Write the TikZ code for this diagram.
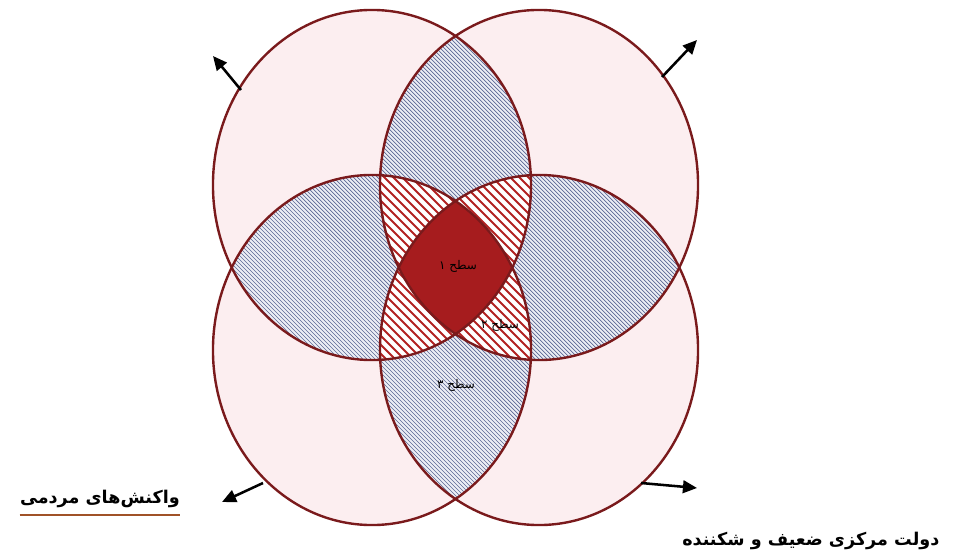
\documentclass[tikz,border=0pt]{standalone}
\usepackage{fontspec}
\usetikzlibrary{arrows.meta}
\newfontfamily\fa[Script=Arabic]{DejaVu Sans}
\TeXXeTstate=1
\definecolor{rim}{RGB}{122,26,28}
\definecolor{pinkf}{RGB}{252,238,240}
\definecolor{hatchb}{RGB}{92,104,148}
\definecolor{lensbg}{RGB}{236,238,245}
\definecolor{hatchr}{RGB}{178,34,34}
\definecolor{core}{RGB}{166,28,30}
\definecolor{uline}{RGB}{160,82,40}
\def\rx{3.975cm}
\def\ry{4.375cm}
\begin{document}
\begin{tikzpicture}[x=0.025cm,y=-0.025cm,
  bh/.style={hatchb,line width=0.5pt},
  rh/.style={hatchr,line width=1.5pt},
  rimline/.style={rim,line width=1.7pt},
  arr/.style={black,line width=1.8pt,-{Triangle[length=10pt,width=9pt]}},
  small/.style={font=\fa\fontsize{8.5}{10}\selectfont,inner sep=0pt},
  big/.style={font=\fa\bfseries\fontsize{12.5}{15}\selectfont,inner sep=0pt}]
\fill[white] (0,0) rectangle (972,558);
\useasboundingbox (0,0) rectangle (972,558);
\coordinate (cTL) at (372,185);
\coordinate (cTR) at (539,185);
\coordinate (cBL) at (372,350);
\coordinate (cBR) at (539,350);
% single fills
\foreach \p in {TL,TR,BL,BR}
  \fill[pinkf] (c\p) ellipse [x radius=\rx, y radius=\ry];
% pairwise: blue hatch
\foreach \p/\q in {TL/TR,TL/BL,TR/BR,BL/BR,TL/BR,TR/BL}{
  \begin{scope}
    \clip (c\p) ellipse [x radius=\rx, y radius=\ry];
    \clip (c\q) ellipse [x radius=\rx, y radius=\ry];
    \fill[lensbg] (0,0) rectangle (972,558);
    \foreach \i in {-360,-356,...,720} \draw[bh] (\i,0) -- ++(558,558);
  \end{scope}
}
% triples: red hatch
\foreach \p/\q/\r in {TL/TR/BL,TL/TR/BR,TL/BL/BR,TR/BL/BR}{
  \begin{scope}
    \clip (c\p) ellipse [x radius=\rx, y radius=\ry];
    \clip (c\q) ellipse [x radius=\rx, y radius=\ry];
    \clip (c\r) ellipse [x radius=\rx, y radius=\ry];
    \fill[white] (0,0) rectangle (972,558);
    \foreach \i in {-360,-351,...,720} \draw[rh] (\i,0) -- ++(558,558);
  \end{scope}
}
% all four: solid
\begin{scope}
  \clip (cTL) ellipse [x radius=\rx, y radius=\ry];
  \clip (cTR) ellipse [x radius=\rx, y radius=\ry];
  \clip (cBL) ellipse [x radius=\rx, y radius=\ry];
  \fill[core] (cBR) ellipse [x radius=\rx, y radius=\ry];
\end{scope}
% outlines
\foreach \p in {TL,TR,BL,BR}
  \draw[rimline] (c\p) ellipse [x radius=\rx, y radius=\ry];
% level labels
\node[small] (s1) at (458,266) {\beginR سطح ۱\endR};
\node[small] (s2) at (500,325) {\beginR سطح ۲\endR};
\node[small] (s3) at (456,385) {\beginR سطح ۳\endR};
% outer labels
\node[big,anchor=east] (wr) at (180,499) {\beginR واکنش‌های مردمی\endR};
\draw[uline,line width=1.5pt] ([yshift=-5pt]wr.south west) -- ([yshift=-5pt]wr.south east);
\node[big,anchor=west] (dm) at (682,541) {\beginR دولت مرکزی ضعیف و شکننده\endR};
% arrows
\coordinate (t1) at (241,90);  \coordinate (h1) at (213,56);
\coordinate (t2) at (662,77);  \coordinate (h2) at (697,40);
\coordinate (t3) at (263,483); \coordinate (h3) at (222,502);
\coordinate (t4) at (641,483); \coordinate (h4) at (697,488);
\draw[arr] (t1) -- (h1);
\draw[arr] (t2) -- (h2);
\draw[arr] (t3) -- (h3);
\draw[arr] (t4) -- (h4);
\end{tikzpicture}
\end{document}
